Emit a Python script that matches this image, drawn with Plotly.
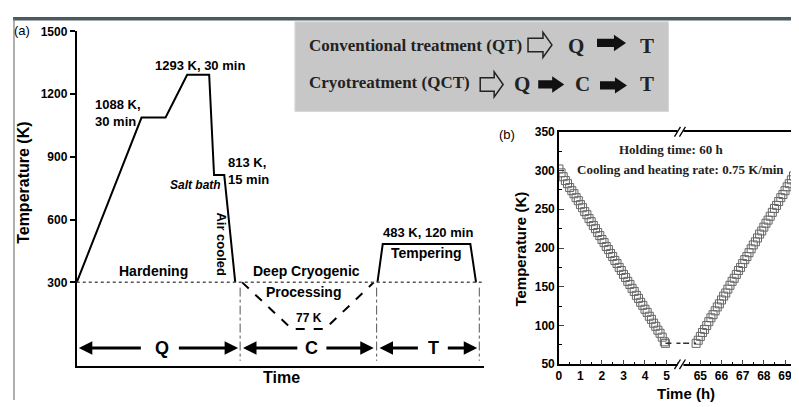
import plotly.graph_objects as go

# page is rendered with an 8px body margin -> figure sized to fill the rest of the window
OFF = 8
W, H = 799 - OFF, 407 - OFF

# ---------------- data: panel (a) schematic (arbitrary time units 0-100) -------------
qt_time = [0, 15.9, 21.8, 27.1, 32.5, 33.7, 36.2, 38.9]
qt_temp = [300, 1088, 1088, 1293, 1293, 813, 813, 300]
cryo_time = [40.6, 52.8, 60.9, 72.9]
cryo_temp = [300, 77, 77, 300]
temper_time = [73.8, 75.1, 96.6, 98.0]
temper_temp = [300, 483, 483, 300]
room_temp = 300
stage_bounds = [40.1, 73.6, 98.8]
stage_labels = ["Q", "C", "T"]
stage_label_x = [21.0, 57.7, 87.5]
stage_arrows = [  # (head, tail) pairs, left then right per stage
    [(0.5, 16.1), (39.6, 24.7)],
    [(40.8, 54.5), (72.9, 60.9)],
    [(74.3, 84.1), (98.3, 90.7)],
]
arrow_temp = -14
y_ticks_a = [300, 600, 900, 1200, 1500]

# ---------------- data: panel (b) measured cycle --------------------------------------
cool_time = [0.0, 0.1, 0.2, 0.3, 0.4, 0.5, 0.6, 0.7, 0.8, 0.9, 1.0, 1.1, 1.2, 1.3, 1.4,
             1.5, 1.6, 1.7, 1.8, 1.9, 2.0, 2.1, 2.2, 2.3, 2.4, 2.5, 2.6, 2.7, 2.8, 2.9,
             3.0, 3.1, 3.2, 3.3, 3.4, 3.5, 3.6, 3.7, 3.8, 3.9, 4.0, 4.1, 4.2, 4.3, 4.4,
             4.5, 4.6, 4.7, 4.8, 4.9, 4.95]
cool_temp = [302, 297, 292, 287, 283, 278, 274, 270, 265, 261, 256, 252, 247, 243, 238,
             234, 229, 225, 220, 216, 211, 207, 202, 198, 193, 189, 184, 180, 175, 171,
             166, 162, 157, 153, 148, 144, 139, 135, 130, 126, 121, 117, 112, 108, 103,
             99, 94, 90, 85, 79, 77]
hold_time = [4.95, 64.8]
hold_temp = [77, 77]
heat_time = [64.8, 64.9, 65.0, 65.1, 65.2, 65.3, 65.4, 65.5, 65.6, 65.7, 65.8, 65.9,
             66.0, 66.1, 66.2, 66.3, 66.4, 66.5, 66.6, 66.7, 66.8, 66.9, 67.0, 67.1,
             67.2, 67.3, 67.4, 67.5, 67.6, 67.7, 67.8, 67.9, 68.0, 68.1, 68.2, 68.3,
             68.4, 68.5, 68.6, 68.7, 68.8, 68.9, 69.0, 69.1, 69.2, 69.3, 69.4, 69.5,
             69.6, 69.7]
heat_temp = [77, 81, 86, 91, 95, 100, 105, 110, 114, 119, 124, 128, 133, 138, 142, 147,
             152, 157, 161, 166, 171, 175, 180, 185, 189, 194, 199, 204, 208, 213, 218,
             222, 227, 232, 236, 241, 246, 251, 255, 260, 265, 269, 274, 279, 283, 288,
             293, 298, 302, 307]
x_ticks_b1 = [0, 1, 2, 3, 4, 5]
x_ticks_b2 = [65, 66, 67, 68, 69]
y_ticks_b = [50, 100, 150, 200, 250, 300, 350]


def px(x):
    return (x - OFF) / W


def py(y):
    return 1 - (y - OFF) / H


SANS = "Liberation Sans"
SERIF = "Liberation Serif"

fig = go.Figure()

# ---- panel (a) traces
fig.add_trace(go.Scatter(x=qt_time, y=qt_temp, mode="lines",
                         line=dict(color="black", width=2), xaxis="x", yaxis="y"))
fig.add_trace(go.Scatter(x=cryo_time, y=cryo_temp, mode="lines",
                         line=dict(color="black", width=2, dash="dash"), xaxis="x", yaxis="y"))
fig.add_trace(go.Scatter(x=temper_time, y=temper_temp, mode="lines",
                         line=dict(color="black", width=2), xaxis="x", yaxis="y"))
fig.add_trace(go.Scatter(x=[0, 100], y=[room_temp, room_temp], mode="lines",
                         line=dict(color="#555", width=1.5, dash="dot"), xaxis="x", yaxis="y"))
for b in stage_bounds:
    fig.add_trace(go.Scatter(x=[b, b], y=[275, -75], mode="lines",
                             line=dict(color="#555", width=1, dash="dashdot"),
                             xaxis="x", yaxis="y"))

# ---- panel (b) traces
for xa, ya in (("x2", "y2"), ("x3", "y3")):
    fig.add_trace(go.Scatter(x=cool_time, y=cool_temp, mode="markers",
                             marker=dict(symbol="square-open", size=8,
                                         color="#666", line=dict(width=1)),
                             xaxis=xa, yaxis=ya))
    fig.add_trace(go.Scatter(x=heat_time, y=heat_temp, mode="markers",
                             marker=dict(symbol="square-open", size=8,
                                         color="#666", line=dict(width=1)),
                             xaxis=xa, yaxis=ya))
    fig.add_trace(go.Scatter(x=hold_time, y=hold_temp, mode="lines",
                             line=dict(color="#333", width=1.5, dash="6px,5px"),
                             xaxis=xa, yaxis=ya))

ann = []


def text(x, y, t, size=13, bold=True, family=SANS, xanchor="center", angle=0,
         italic=False, align="center", color="black"):
    ann.append(dict(x=px(x), y=py(y), xref="paper", yref="paper", text=t,
                    showarrow=False, xanchor=xanchor, yanchor="middle",
                    textangle=angle, align=align,
                    font=dict(family=family, size=size, color=color,
                              weight="bold" if bold else "normal",
                              style="italic" if italic else "normal")))


# phase arrows (panel a)
for pairs, lab, lx in zip(stage_arrows, stage_labels, stage_label_x):
    for head, tail in pairs:
        ann.append(dict(x=head, y=arrow_temp, ax=tail, ay=arrow_temp, xref="x", yref="y",
                        axref="x", ayref="y", text="", showarrow=True, arrowhead=2,
                        arrowsize=0.9, arrowwidth=3, arrowcolor="black"))
    ann.append(dict(x=lx, y=arrow_temp, xref="x", yref="y", text=lab, showarrow=False,
                    font=dict(family=SANS, size=18, color="black", weight="bold")))

text(19, 24, "(a)", 13, bold=False)
text(21, 182, "Temperature (K)", 16, angle=-90)
text(90, 110, "1088 K,<br>30 min", 13, xanchor="left", align="left")
text(198, 60, "1293 K, 30 min", 13)
text(224, 170, "813 K,<br>15 min", 13, xanchor="left", align="left")
text(221, 184, "Salt bath", 12, xanchor="right", italic=True)
text(219, 246, "Air cooled", 13, angle=90)
text(151, 273, "Hardening", 14)
text(305, 273, "Deep Cryogenic", 14)
text(302, 295, "Processing", 14)
text(307, 322, "77 K", 12)
text(427, 233, "483 K, 120 min", 13)
text(425, 255, "Tempering", 14)
text(280, 384, "Time", 16)

# banner
text(305, 40, "Conventional treatment (QT)", 17, family=SERIF, xanchor="left", color="#222")
text(575, 40, "Q", 21, family=SERIF, color="#222")
text(646, 40, "T", 21, family=SERIF, color="#222")
text(305, 78, "Cryotreatment (QCT)", 17, family=SERIF, xanchor="left", color="#222")
text(521, 79, "Q", 21, family=SERIF, color="#222")
text(582, 79, "C", 21, family=SERIF, color="#222")
text(646, 79, "T", 21, family=SERIF, color="#222")

# panel (b)
text(506, 132, "(b)", 13, bold=False)
text(519, 251, "Temperature (K)", 15, angle=-90)
text(686, 400, "Time (h)", 15)
text(671, 147, "Holding time: 60 h", 13, family=SERIF, color="#222")
text(680, 168, "Cooling and heating rate: 0.75 K/min", 13, family=SERIF, color="#222")
text(806, 378, "70", 12)

shapes = []


def pline(x0, y0, x1, y1, color="black", width=1.5):
    shapes.append(dict(type="line", xref="paper", yref="paper", x0=px(x0), y0=py(y0),
                       x1=px(x1), y1=py(y1), line=dict(color=color, width=width)))


def path(points, fill, line_color, width=1.5):
    d = "M " + " L ".join(f"{px(a):.5f},{py(b):.5f}" for a, b in points) + " Z"
    shapes.append(dict(type="path", xref="paper", yref="paper", path=d,
                       fillcolor=fill, line=dict(color=line_color, width=width)))


def block_arrow(x0, x1, yc, body, head, head_len, fill, line_color):
    xb = x1 - head_len
    pts = [(x0, yc - body / 2), (xb, yc - body / 2), (xb, yc - head / 2), (x1, yc),
           (xb, yc + head / 2), (xb, yc + body / 2), (x0, yc + body / 2)]
    path(pts, fill, line_color)


# frame decorations
shapes.append(dict(type="rect", xref="paper", yref="paper", x0=px(293), y0=py(108),
                   x1=px(668), y1=py(15), fillcolor="#c7c7c7",
                   line=dict(color="#d8d8d8", width=1), layer="below"))
pline(10, 12, 799, 12, color="#4b5a60", width=3.5)
pline(11, 12, 11, 407, color="#7a7a7a", width=1.2)

# banner arrows
block_arrow(527, 551, 39, 14, 26, 9, "#c7c7c7", "#222")
block_arrow(479, 502, 80, 14, 26, 9, "#c7c7c7", "#222")
block_arrow(597, 624, 37, 7, 14, 10, "#111", "#111")
block_arrow(538, 562, 80, 7, 14, 10, "#111", "#111")
block_arrow(600, 625, 81, 7, 14, 10, "#111", "#111")

# axis break marks (panel b)
for yb in (129, 370):
    shapes.append(dict(type="rect", xref="paper", yref="paper", x0=px(677), y0=py(yb + 3),
                       x1=px(683), y1=py(yb - 3), fillcolor="white",
                       line=dict(width=0)))
    pline(674, yb + 5, 680, yb - 5, width=1.3)
    pline(679, yb + 5, 685, yb - 5, width=1.3)

tickfont = dict(family=SANS, size=12, color="black", weight="bold")
tickfont_b = dict(family=SANS, size=12, color="black", weight="bold")

fig.update_layout(
    width=W, height=H, margin=dict(l=0, r=0, t=0, b=0),
    paper_bgcolor="white", plot_bgcolor="rgba(0,0,0,0)", showlegend=False,
    annotations=ann, shapes=shapes,
    xaxis=dict(domain=[px(74), px(483)], range=[0, 100], showline=True,
               linecolor="black", linewidth=2, showticklabels=False, ticks="",
               showgrid=False, zeroline=False, fixedrange=True),
    yaxis=dict(domain=[py(372), py(25)], range=[-101, 1500], showline=True,
               linecolor="black", linewidth=2, tickvals=y_ticks_a, ticks="outside",
               ticklen=5, tickwidth=1.5, tickcolor="black", tickfont=tickfont,
               showgrid=False, zeroline=False, anchor="x"),
    xaxis2=dict(domain=[px(558), px(680)], range=[0, 5.648], anchor="y2",
                showline=True, mirror=True, linecolor="black", linewidth=1.5,
                tickvals=x_ticks_b1, ticks="inside", ticklen=5, tickwidth=1,
                tickfont=tickfont_b, showgrid=False, zeroline=False,
                minor=dict(dtick=0.5, ticks="inside", ticklen=3, tickcolor="black",
                           showgrid=False)),
    xaxis3=dict(domain=[px(680), 1], range=[64.06, 69.66], anchor="y3",
                showline=True, mirror=True, linecolor="black", linewidth=1.5,
                tickvals=x_ticks_b2, ticks="inside", ticklen=5, tickwidth=1,
                tickfont=tickfont_b, showgrid=False, zeroline=False,
                minor=dict(dtick=0.5, ticks="inside", ticklen=3, tickcolor="black",
                           showgrid=False)),
    yaxis2=dict(domain=[py(370), py(129)], range=[50, 350], anchor="x2",
                showline=True, linecolor="black", linewidth=1.5, tickvals=y_ticks_b,
                ticks="inside", ticklen=5, tickwidth=1, tickfont=tickfont_b,
                showgrid=False, zeroline=False,
                minor=dict(dtick=25, ticks="inside", ticklen=3, tickcolor="black",
                           showgrid=False)),
    yaxis3=dict(domain=[py(370), py(129)], range=[50, 350], anchor="x3",
                visible=False, showgrid=False, zeroline=False),
)

fig.write_html("out.html")
